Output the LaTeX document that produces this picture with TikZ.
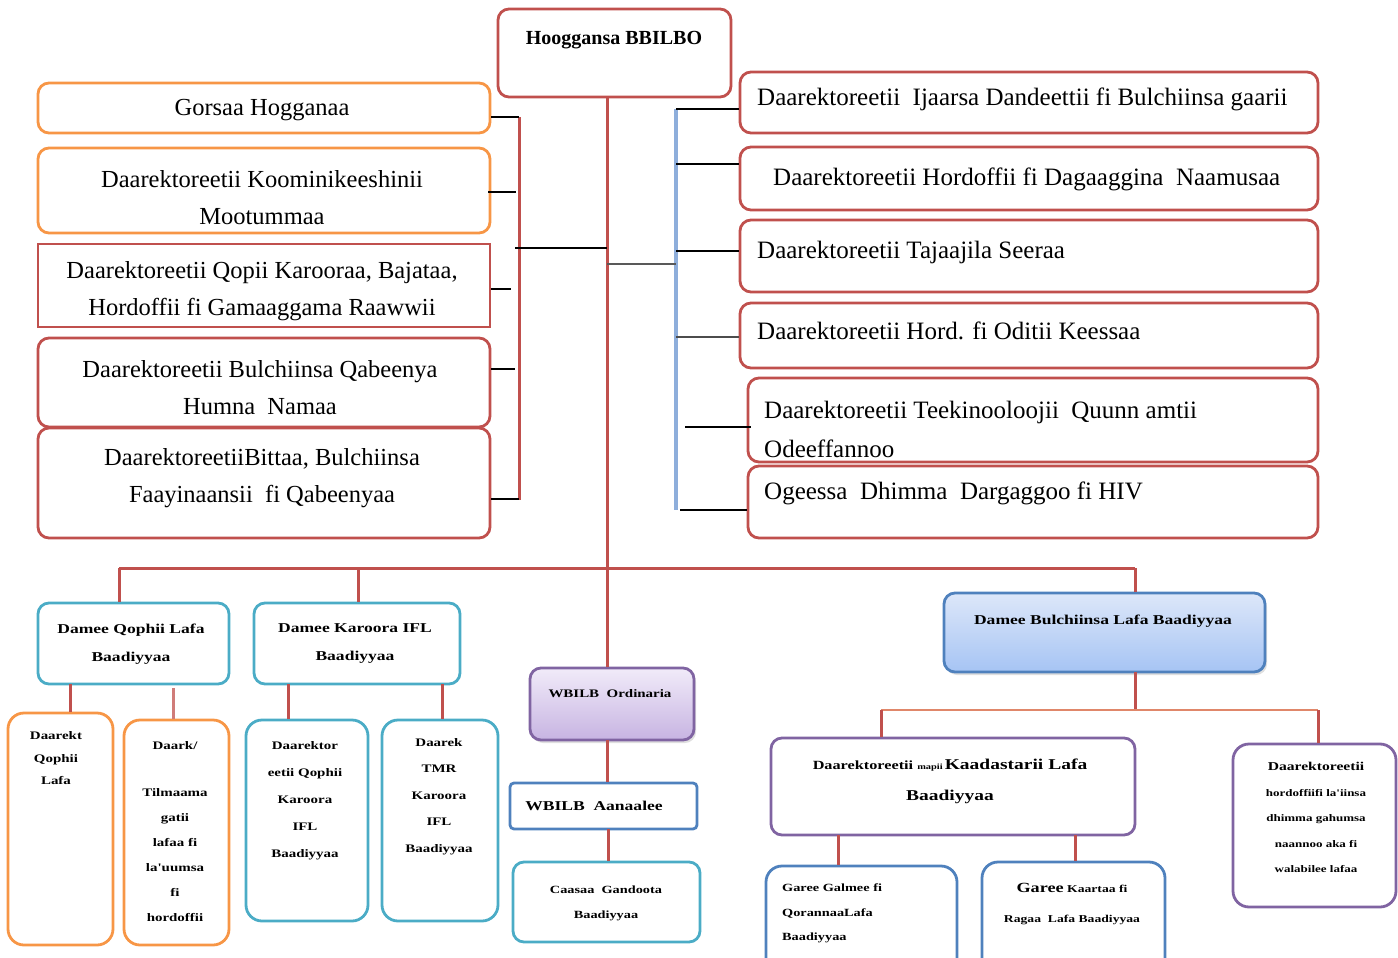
\documentclass[tikz,border=0pt]{standalone}
\usepackage{fontspec}
\setmainfont{Liberation Serif}
\newfontfamily\smf[FakeStretch=1.3]{Liberation Serif}
\usetikzlibrary{shadows,calc}
\definecolor{cred}{HTML}{C0504D}
\definecolor{corange}{HTML}{F79646}
\definecolor{cteal}{HTML}{4BACC6}
\definecolor{cpurple}{HTML}{8064A2}
\definecolor{cblue}{HTML}{4F81BD}
\definecolor{cbrack}{HTML}{8EAEDB}
\definecolor{csalmon}{HTML}{E0876A}
\definecolor{lavtop}{HTML}{F1EBF9}
\definecolor{lavbot}{HTML}{C7B4E2}
\definecolor{blutop}{HTML}{DDE7F9}
\definecolor{blubot}{HTML}{A6C4F4}
\newcommand\bx[6]{\node[#6, minimum width={(#4-#2)*1pt}, minimum height={(#5-#3)*1pt}] (#1) at ({(#2+#4)/2},{(#3+#5)/2}) {};}
\begin{document}
\begin{tikzpicture}[x=1pt,y=-1pt,
  box/.style={draw, line width=2.8pt, rounded corners=11pt, inner sep=0pt},
  bigt/.style={font=\fontsize{24.5}{37}\selectfont, align=center, inner sep=0pt},
  rt/.style={font=\fontsize{25}{39}\selectfont, align=left, inner sep=0pt, anchor=west},
  smt/.style={font=\smf\bfseries\fontsize{12}{26}\selectfont, align=center, inner sep=0pt},
  conn/.style={cred, line width=3pt},
  tick/.style={black, line width=2.8pt}]
\useasboundingbox (0,0) rectangle (1398,958);
\clip (0,0) rectangle (1398,958);

% ---------- top ----------
\bx{top}{498}{9}{731}{97}{box, cred}
\node[font=\bfseries\fontsize{20}{24}\selectfont, inner sep=0pt] (topt) at (614,40) {Hooggansa BBILBO};

% ---------- left column ----------
\bx{L1}{38}{83}{490}{133}{box, corange}
\bx{L2}{38}{148}{490}{233}{box, corange}
\bx{L3}{38}{244}{490}{327}{box, cred, rounded corners=0pt}
\bx{L4}{38}{338}{490}{427}{box, cred}
\bx{L5}{38}{428}{490}{538}{box, cred}
\node[bigt] (L1t) at (262,110) {Gorsaa Hogganaa};
\node[bigt] (L2t) at (262,198) {Daarektoreetii Koominikeeshinii\\Mootummaa};
\node[bigt] (L3t) at (262,291) {Daarektoreetii Qopii Karooraa, Bajataa,\\Hordoffii fi Gamaaggama Raawwii};
\node[bigt] (L4t) at (260,388) {Daarektoreetii Bulchiinsa Qabeenya\\Humna\ \ Namaa};
\node[bigt] (L5t) at (262,478) {DaarektoreetiiBittaa, Bulchiinsa\\Faayinaansii\ \ fi Qabeenyaa};

% left bracket
\coordinate (lbT) at (519,117);
\coordinate (lbB) at (519,500);
\draw[conn] (lbT) -- (lbB);
\coordinate (lk1) at (519,117);
\coordinate (lk2) at (516,192);
\coordinate (lk3) at (511,289);
\coordinate (lk4) at (515,369);
\coordinate (lk5) at (519,499);
\draw[tick] (lk1 -| L1.east) -- (lk1);
\draw[tick] ($(lk2 -| L2.east)+(-3,0)$) -- (lk2);
\draw[tick] (lk3 -| L3.east) -- (lk3);
\draw[tick] (lk4 -| L4.east) -- (lk4);
\draw[tick] (lk5 -| L5.east) -- (lk5);

% trunk
\coordinate (t0) at (607,97);
\coordinate (lj) at (515,248);
\coordinate (rj0) at (607,264);
\coordinate (rj) at (676,264);

% ---------- right column ----------
\bx{R1}{740}{72}{1318}{133}{box, cred}
\bx{R2}{740}{147}{1318}{210}{box, cred}
\bx{R3}{740}{220}{1318}{292}{box, cred}
\bx{R4}{740}{303}{1318}{368}{box, cred}
\bx{R5}{748}{378}{1318}{462}{box, cred}
\bx{R6}{748}{466}{1318}{538}{box, cred}
\node[rt] (R1t) at (757,99) {Daarektoreetii\ \ Ijaarsa Dandeettii fi Bulchiinsa gaarii};
\node[rt] (R2t) at (773,179) {Daarektoreetii Hordoffii fi Dagaaggina\ \ Naamusaa};
\node[rt] (R3t) at (757,252) {Daarektoreetii Tajaajila Seeraa};
\node[rt] (R4t) at (757,331) {Daarektoreetii Hord. fi Oditii Keessaa};
\node[rt] (R5t) at (764,429) {Daarektoreetii Teekinooloojii\ \ Quunn amtii\\Odeeffannoo};
\node[rt] (R6t) at (764,493) {Ogeessa\ \ Dhimma\ \ Dargaggoo fi HIV};

% right bracket
\coordinate (rbT) at (676,109);
\coordinate (rbB) at (676,510);
\draw[cbrack, line width=3.5pt] (rbT) -- (rbB);
\coordinate (rk1) at (676,109);
\coordinate (rk2) at (676,164);
\coordinate (rk3) at (676,251);
\coordinate (rk4) at (676,337);
\coordinate (rk5) at (685,427);
\coordinate (rk6) at (680,510);
\draw[tick] (rk1) -- (rk1 -| R1.west);
\draw[tick] (rk2) -- (rk2 -| R2.west);
\draw[tick] (rk3) -- (rk3 -| R3.west);
\draw[tick, black!70] (rk4) -- (rk4 -| R4.west);
\draw[tick] (rk5) -- ($(rk5 -| R5.west)+(4,0)$);
\draw[tick] (rk6) -- (rk6 -| R6.west);

% ---------- level 2 ----------
\bx{A}{38}{603}{229}{684}{box, cteal}
\bx{B}{254}{603}{460}{684}{box, cteal}
\bx{C}{530}{668}{694}{740}{box, cpurple, top color=lavtop, bottom color=lavbot, drop shadow={opacity=0.25, shadow xshift=2pt, shadow yshift=-3pt}}
\bx{D}{510}{783}{697}{829}{box, cblue, rounded corners=4pt}
\bx{E}{513}{862}{700}{942}{box, cteal}
\bx{F}{944}{593}{1265}{672}{box, cblue, top color=blutop, bottom color=blubot, drop shadow={opacity=0.25, shadow xshift=2pt, shadow yshift=-3pt}}

\node[smt, font=\smf\bfseries\fontsize{13.5}{28}\selectfont] (At) at (131,644) {Damee Qophii Lafa\\Baadiyyaa};
\node[smt, font=\smf\bfseries\fontsize{13.5}{28}\selectfont] (Bt) at (355,644) {Damee Karoora IFL\\Baadiyyaa};
\node[smt, font=\smf\bfseries\fontsize{11.5}{14}\selectfont] (Ct) at (610,694) {WBILB\ \ Ordinaria};
\node[smt, font=\smf\bfseries\fontsize{13.5}{16}\selectfont] (Dt) at (594,806) {WBILB\ \ Aanaalee};
\node[smt, font=\smf\bfseries\fontsize{11}{25}\selectfont] (Et) at (606,903) {Caasaa\ \ Gandoota\\Baadiyyaa};
\node[smt, font=\smf\bfseries\fontsize{13.5}{16}\selectfont] (Ft) at (1103,621) {Damee Bulchiinsa Lafa Baadiyyaa};

% bar
\coordinate (b1) at (119,568);
\coordinate (b2) at (358,568);
\coordinate (b3) at (1135,568);
\draw[conn] (b1) -- (b3);
\draw[conn] (b1) -- (b1 |- A.north);
\draw[conn] (b2) -- (b2 |- B.north);
\draw[conn] (b3) -- (b3 |- F.north);
\draw[conn] (t0) -- (t0 |- C.north);
\draw[tick] (lj) -- (lj -| t0);
\draw[tick, black!65] (rj0) -- (rj);

% ---------- level 3 ----------
\bx{A1}{8}{713}{113}{945}{box, corange, rounded corners=16pt}
\bx{A2}{124}{720}{229}{945}{box, corange, rounded corners=16pt}
\bx{B1}{246}{720}{368}{921}{box, cteal, rounded corners=16pt}
\bx{B2}{382}{720}{498}{921}{box, cteal, rounded corners=16pt}
\node[smt, font=\smf\bfseries\fontsize{11.5}{26}\selectfont, anchor=north] (A1t) at (56,731) {Daarekt\\[-3pt]Qophii\\[-4pt]Lafa};
\node[smt, font=\smf\bfseries\fontsize{11.5}{25}\selectfont, anchor=north] (A2t) at (175,741) {Daark/\\[22pt]Tilmaama\\gatii\\lafaa fi\\la'uumsa\\fi\\hordoffii};
\node[smt, font=\smf\bfseries\fontsize{11.5}{27}\selectfont, anchor=north] (B1t) at (305,741) {Daarektor\\eetii Qophii\\Karoora\\IFL\\Baadiyyaa};
\node[smt, font=\smf\bfseries\fontsize{11.5}{26.5}\selectfont, anchor=north] (B2t) at (439,738) {Daarek\\TMR\\Karoora\\IFL\\Baadiyyaa};
\coordinate (a1) at (70,684);
\coordinate (a2) at (173,688);
\coordinate (bb1) at (288,684);
\coordinate (bb2) at (442,684);
\draw[conn] (a1) -- (a1 |- A1.north);
\draw[conn, cred!75] (a2) -- (a2 |- A2.north);
\draw[conn] (bb1) -- (bb1 |- B1.north);
\draw[conn] (bb2) -- (bb2 |- B2.north);
\coordinate (cd) at (607,740);
\coordinate (de) at (608,829);
\draw[conn] (cd) -- (cd |- D.north);
\draw[conn] (de) -- (de |- E.north);

% ---------- right subtree ----------
\bx{G}{771}{738}{1135}{835}{box, cpurple}
\bx{H}{1233}{744}{1396}{907}{box, cpurple, rounded corners=16pt}
\bx{G1}{766}{866}{957}{985}{box, cblue, rounded corners=16pt}
\bx{G2}{982}{862}{1165}{985}{box, cblue, rounded corners=16pt}
\node[smt, font=\smf\bfseries\fontsize{12.5}{31}\selectfont] (Gt) at (950,781) {Daarektoreetii {\fontsize{8}{10}\selectfont mapii}\,{\fontsize{15}{18}\selectfont Kaadastarii Lafa}\\{\fontsize{15}{18}\selectfont Baadiyyaa}};
\node[smt, font=\smf\bfseries\fontsize{10}{25.5}\selectfont, anchor=north] (Ht) at (1316,762) {{\fontsize{12}{14}\selectfont Daarektoreetii}\\hordoffiifi la'iinsa\\dhimma gahumsa\\naannoo aka fi\\walabilee lafaa};
\node[smt, font=\smf\bfseries\fontsize{11}{24.5}\selectfont, align=left, anchor=north west] (G1t) at (782,884) {Garee Galmee fi\\QorannaaLafa\\Baadiyyaa};
\node[smt, font=\smf\bfseries\fontsize{10.5}{30}\selectfont] (G2t) at (1072,904) {{\fontsize{14}{16}\selectfont Garee} Kaartaa fi\\Ragaa\ \ Lafa Baadiyyaa};
\coordinate (f0) at (1135,672);
\coordinate (fl) at (881,710);
\coordinate (fr) at (1318,710);
\draw[conn] (f0) -- (f0 |- fl);
\draw[csalmon, line width=2.8pt] (fl) -- (fr);
\draw[conn] (fl) -- (fl |- G.north);
\draw[conn] (fr) -- (fr |- H.north);
\coordinate (g1) at (838,835);
\coordinate (g2) at (1075,835);
\draw[conn] (g1) -- (g1 |- G1.north);
\draw[conn] (g2) -- (g2 |- G2.north);
\end{tikzpicture}
\end{document}
